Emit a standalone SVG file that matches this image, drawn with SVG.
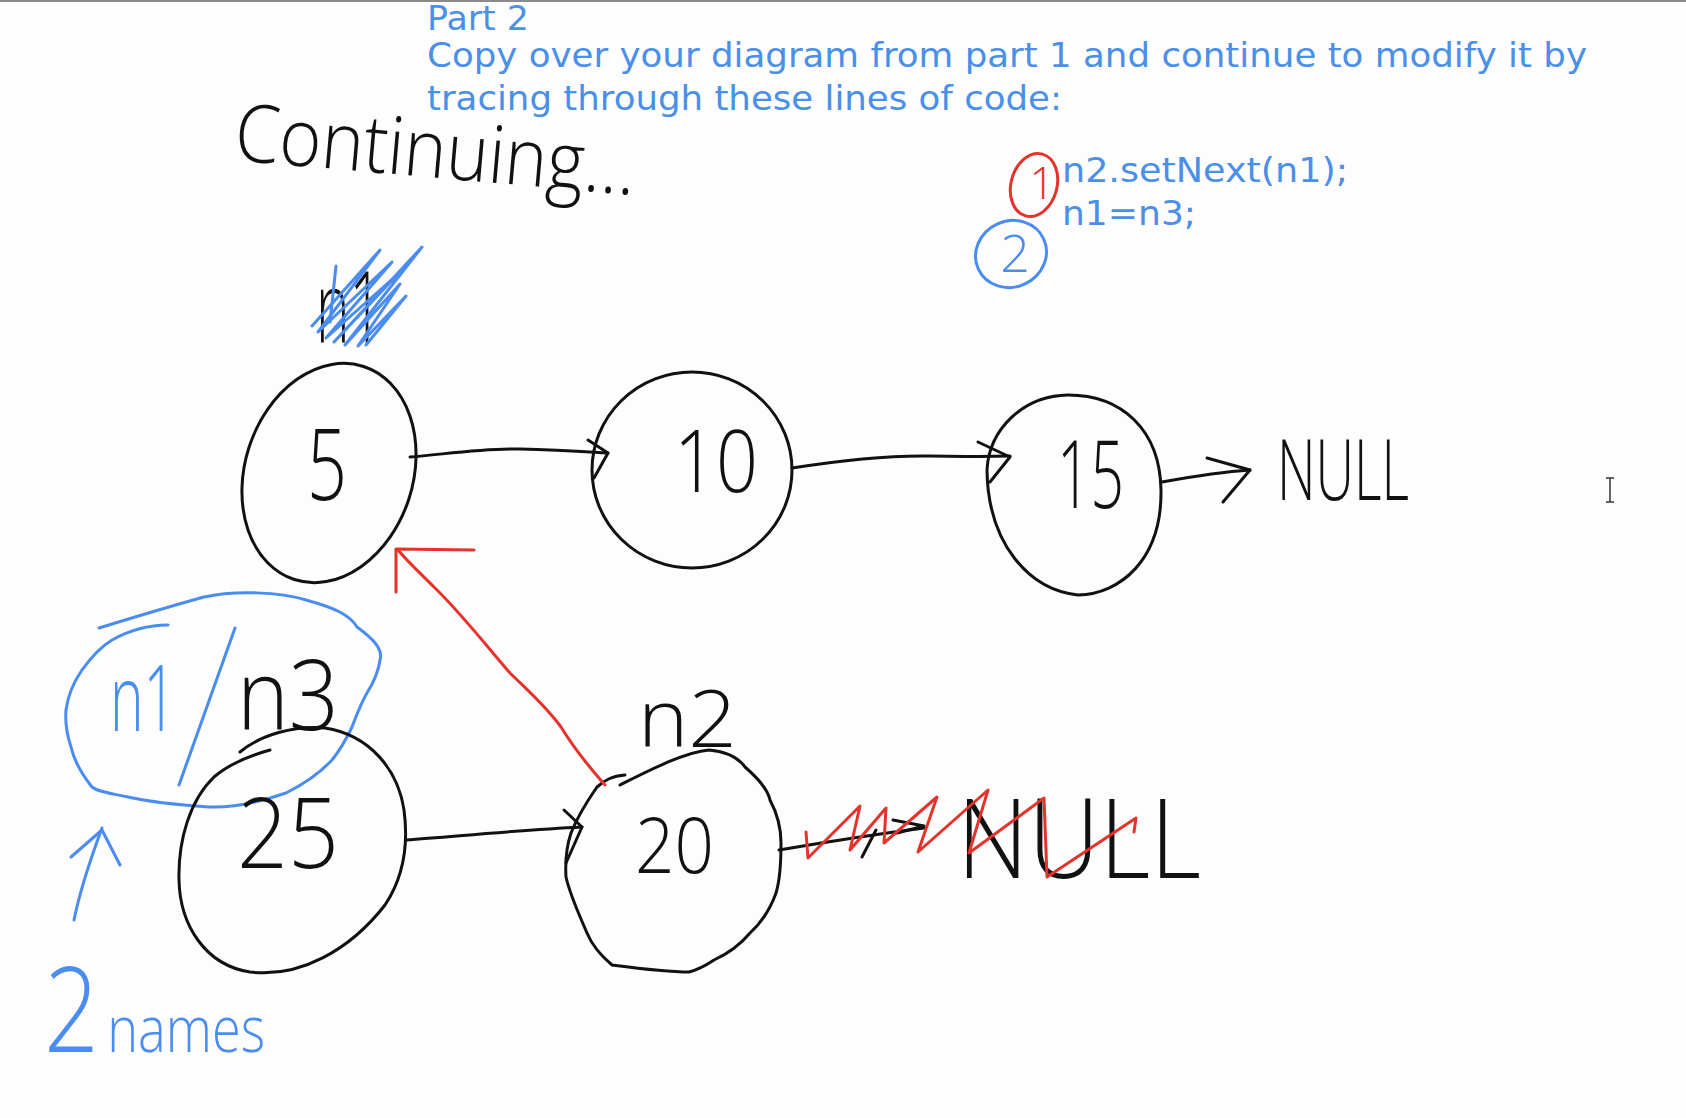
<svg xmlns="http://www.w3.org/2000/svg" width="1686" height="1118" viewBox="0 0 1686 1118">
<defs>
<style>
.pen{fill:none;stroke:#111;stroke-width:3;stroke-linecap:round;stroke-linejoin:round}
.blue{stroke:#4a8cf0}
.red{stroke:#e5332b}
.hw{font-family:"Open Sans","Liberation Sans",sans-serif;font-weight:300;fill:#111}
.hwb{font-family:"Open Sans","Liberation Sans",sans-serif;font-weight:300;fill:#4a8cf0}
.hwr{font-family:"Open Sans","Liberation Sans",sans-serif;font-weight:300;fill:#e5332b}
.qt{font-family:"DejaVu Sans",Verdana,sans-serif;fill:#4a8fe8;font-size:34px}
</style>
</defs>
<rect x="0" y="0" width="1686" height="1118" fill="#fdfdfd"/>
<line x1="0" y1="1" x2="1686" y2="1" stroke="#8a8a8a" stroke-width="2"/>

<g id="question">
<text class="qt" x="427" y="30" font-size="32" textLength="102" lengthAdjust="spacingAndGlyphs">Part 2</text>
<text class="qt" x="427" y="67" textLength="1160" lengthAdjust="spacingAndGlyphs">Copy over your diagram from part 1 and continue to modify it by</text>
<text class="qt" x="427" y="110" textLength="635" lengthAdjust="spacingAndGlyphs">tracing through these lines of code:</text>
<text class="qt" x="1062" y="182" textLength="286" lengthAdjust="spacingAndGlyphs">n2.setNext(n1);</text>
<text class="qt" x="1062" y="225" textLength="134" lengthAdjust="spacingAndGlyphs">n1=n3;</text>
</g>

<g id="step-marks">
<ellipse class="pen red" cx="1034" cy="185" rx="23" ry="32" transform="rotate(15 1034 185)"/>
<text class="hwr" x="1042" y="199" font-size="44" text-anchor="middle">1</text>
<ellipse class="pen blue" cx="1011" cy="254" rx="36" ry="33" transform="rotate(-25 1011 254)"/>
<text class="hwb" x="1015" y="272" font-size="52" text-anchor="middle">2</text>
</g>

<g id="title">
<text class="hw" x="233" y="160" font-size="80" textLength="402" lengthAdjust="spacingAndGlyphs" transform="rotate(5 233 160)">Continuing...</text>
</g>

<g id="label-n1-old">
<text class="hw" x="316" y="343" font-size="100" textLength="66" lengthAdjust="spacingAndGlyphs">n1</text>
<polyline class="pen blue" points="312,326 380,250 318,332 392,262 326,338 398,274 334,342 422,247 345,345 400,284 358,346 406,296 366,345"/>
<polyline class="pen blue" points="336,266 330,322"/>
</g>

<g id="node-5">
<ellipse class="pen" cx="329" cy="473" rx="84" ry="112" transform="rotate(18 329 473)"/>
<text class="hw" x="307" y="500" font-size="100" textLength="40" lengthAdjust="spacingAndGlyphs">5</text>
</g>

<g id="node-10">
<ellipse class="pen" cx="692" cy="470" rx="100" ry="98"/>
<text class="hw" x="674" y="492" font-size="87" textLength="84" lengthAdjust="spacingAndGlyphs">10</text>
</g>

<g id="node-15">
<path class="pen" d="M1161 490 C1162 560 1120 594 1078 595 C1030 590 988 545 987 470 C989 430 1022 396 1068 395 C1122 395 1160 430 1161 490 Z"/>
<text class="hw" x="1057" y="508" font-size="94" textLength="67" lengthAdjust="spacingAndGlyphs">15</text>
</g>

<g id="null-top">
<text class="hw" x="1277" y="500" font-size="85" textLength="132" lengthAdjust="spacingAndGlyphs">NULL</text>
</g>

<g id="label-n1-n3">
<path class="pen blue" d="M99 628 C125 620 175 605 204 597 C235 590 280 592 306 600 C335 608 350 615 357 627 C375 640 383 650 380 660 C378 675 372 685 367 693 C360 705 356 717 352 727 C345 742 340 750 332 760 C318 775 300 786 286 793 C260 802 235 808 209 807 C180 805 150 802 128 797 C110 793 98 792 92 787 C80 772 74 760 71 747 C67 735 65 722 66 710 C68 695 75 680 82 670 C92 656 102 646 112 640 C130 630 150 625 168 625"/>
<text class="hwb" x="110" y="731" font-size="92" textLength="66" lengthAdjust="spacingAndGlyphs">n1</text>
<line class="pen blue" x1="235" y1="628" x2="179" y2="785"/>
<text class="hw" x="237" y="730" font-size="98" textLength="102" lengthAdjust="spacingAndGlyphs">n3</text>
</g>

<g id="node-25">
<path class="pen" d="M270 750 C245 757 228 765 214 777 C190 800 178 840 179 880 C180 925 205 965 250 972 C300 978 350 950 385 905 C405 875 408 840 404 810 C398 770 370 735 325 728 C295 725 260 735 240 752"/>
<text class="hw" x="237" y="868" font-size="98" textLength="102" lengthAdjust="spacingAndGlyphs">25</text>
</g>

<g id="node-20">
<path class="pen" d="M620 785 C650 770 685 752 709 750 C730 752 740 760 745 767 C760 780 768 790 770 800 C778 815 781 828 781 843 C781 865 780 880 776 893 C770 910 762 922 750 933 C740 945 725 955 714 960 C705 966 697 970 689 972 C665 972 635 968 612 965 C600 955 592 945 587 933 C578 912 570 895 566 877 C565 860 567 845 571 833 C578 815 588 800 597 787 C605 780 612 776 625 775"/>
<text class="hw" x="635" y="873" font-size="78" textLength="79" lengthAdjust="spacingAndGlyphs">20</text>
</g>

<g id="label-n2">
<text class="hw" x="638" y="747" font-size="80" textLength="99" lengthAdjust="spacingAndGlyphs">n2</text>
</g>

<g id="null-bottom">
<text class="hw" x="957" y="878" font-size="110" textLength="244" lengthAdjust="spacingAndGlyphs">NULL</text>
</g>

<g id="note-2names">
<path class="pen blue" d="M74 920 C80 890 92 855 102 828"/>
<polyline class="pen blue" points="71,857 102,830 120,865"/>
<text class="hwb" x="44" y="1052" font-size="64" textLength="221" lengthAdjust="spacingAndGlyphs"><tspan font-size="118">2</tspan><tspan dx="10">names</tspan></text>
</g>

<g id="connectors">
<path class="pen" d="M410 457 C440 455 480 448 520 449 C560 450 590 452 608 453"/>
<polyline class="pen" points="588,440 608,453 594,478"/>
<path class="pen" d="M792 468 C830 462 880 455 930 456 C970 457 995 456 1010 456"/>
<polyline class="pen" points="978,442 1010,457 990,482"/>
<path class="pen" d="M1162 482 C1190 477 1220 472 1250 470"/>
<polyline class="pen" points="1207,458 1250,470 1223,502"/>
<path class="pen" d="M406 840 C460 836 520 830 582 827"/>
<polyline class="pen" points="564,810 582,827 566,863"/>
<path class="pen" d="M779 850 C820 843 870 835 924 828"/>
<polyline class="pen" points="893,820 924,826 897,833"/>
<polyline class="pen" points="876,830 862,857"/>
<path class="pen red" d="M605 785 C590 768 575 750 561 727 C545 705 525 688 510 673 C490 650 460 612 434 587 C420 573 408 562 398 550"/>
<polyline class="pen red" points="396,592 396,549 474,550"/>
<polyline class="pen red" points="806,832 808,858 860,806 850,850 886,808 884,843 937,797 918,852 988,790 969,853 1044,798 1047,877 1136,818 1134,832"/>
</g>

<g id="cursor">
<path d="M1610 478 V502 M1606 478 H1614 M1606 502 H1614" fill="none" stroke="#333" stroke-width="1.5"/>
</g>
</svg>
